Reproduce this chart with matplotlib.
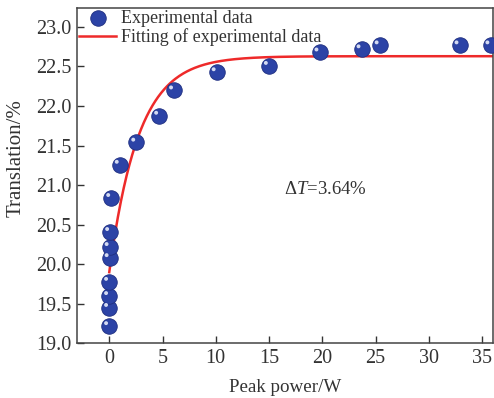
import numpy as np
import matplotlib
matplotlib.use("Agg")
import matplotlib.pyplot as plt

plt.rcParams['font.family'] = ['Liberation Serif', 'DejaVu Serif']
plt.rcParams['mathtext.fontset'] = 'custom'
plt.rcParams['mathtext.rm'] = 'Liberation Serif'
plt.rcParams['mathtext.it'] = 'Liberation Serif:italic'

# Experimental data (peak power W, translation %)
power = [0.0, 0.0, 0.0, 0.0, 0.05, 0.05, 0.1, 0.2, 1.0, 2.55, 4.7, 6.1,
         10.1, 15.0, 19.75, 23.7, 25.4, 32.9, 35.8]
trans = [19.22, 19.45, 19.60, 19.78, 20.08, 20.22, 20.41, 20.84, 21.26, 21.54,
         21.88, 22.20, 22.43, 22.51, 22.68, 22.72, 22.77, 22.77, 22.77]

# Fitted exponential curve parameters
fit_plateau = 22.63
fit_amp = 2.73
fit_tau = 2.75
fit_xmax = 36.0

xticks = [0, 5, 10, 15, 20, 25, 30, 35]
yticks = [19.0, 19.5, 20.0, 20.5, 21.0, 21.5, 22.0, 22.5, 23.0]

fig = plt.figure(figsize=(4.94, 3.98), dpi=100)
ax = fig.add_axes([0.1565, 0.1374, 0.9974 - 0.1565, 0.98 - 0.1374])

xf = np.linspace(0, fit_xmax, 400)
yf = fit_plateau - fit_amp * np.exp(-xf / fit_tau)

ax.scatter(power, trans, s=125, color='#2c43a6', edgecolor='#1f2f80', linewidth=0.6,
           zorder=3, label='Experimental data')
ax.scatter(np.array(power) - 0.3, np.array(trans) + 0.035, s=8, color='#d4daf2',
           edgecolor='none', zorder=4)
ax.plot(xf, yf, color='#ee2a2a', lw=1.8, zorder=2, label='Fitting of experimental data')

ax.set_xlim(-3, 36)
ax.set_ylim(19.0, 23.24)
ax.set_xticks(xticks)
ax.set_yticks(yticks)
ax.set_yticklabels([f'{v:.1f}' for v in yticks])
ax.tick_params(direction='in', length=5, width=1, labelsize=14.5, colors='#333333', pad=4)
for s in ax.spines.values():
    s.set_color('#444444')
    s.set_linewidth(1.1)

ax.set_xlabel('Peak power/W', fontsize=13.7, color='#333333', labelpad=8)
ax.set_ylabel('Translation/%', fontsize=15, color='#333333')
ax.yaxis.set_label_coords(-0.125, 0.552)

ax.text(20.3, 20.94, r'$\Delta T$=3.64%', fontsize=13.5, color='#333333', ha='center', va='center')

leg = ax.legend(loc='upper left', frameon=False, fontsize=13, handlelength=2.05,
                handletextpad=0.28, labelspacing=0.08, borderaxespad=0.0,
                borderpad=0.1, labelcolor='#333333')

fig.savefig('out.png', dpi=100)
